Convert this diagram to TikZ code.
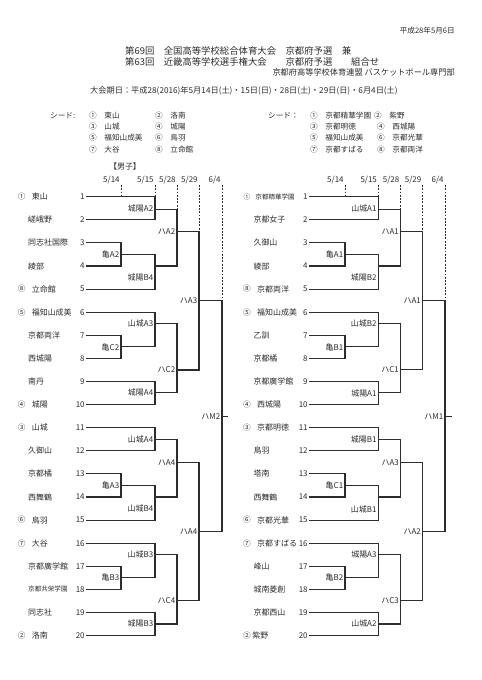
\documentclass[tikz,border=0pt]{standalone}
\usepackage{fontspec}
\setmainfont{Noto Sans CJK JP}
\usepackage{tikz}
\usetikzlibrary{positioning}
\definecolor{inkgray}{RGB}{45,45,45}

\begin{document}
\begin{tikzpicture}[
    x=0.03cm, y=-0.03cm,
    team/.style={anchor=west,inner sep=0pt,text=inkgray,font=\fontsize{6.8}{8}\selectfont},
    smallteam/.style={anchor=west,inner sep=0pt,text=inkgray,font=\fontsize{5.6}{7}\selectfont},
    num/.style={anchor=east,inner sep=1pt,text=inkgray,font=\fontsize{6.8}{8}\selectfont},
    seedmk/.style={inner sep=0pt,text=inkgray,font=\fontsize{6.5}{8}\selectfont},
    match/.style={anchor=east,inner sep=0.5pt,text=inkgray,font=\fontsize{6.8}{8}\selectfont},
    datelab/.style={anchor=south east,inner sep=1pt,text=inkgray,font=\fontsize{6.8}{8}\selectfont},
    seedlist/.style={anchor=west,inner sep=0pt,text=inkgray,font=\fontsize{6.5}{8}\selectfont},
    bline/.style={draw=inkgray,line width=0.9pt},
    markline/.style={draw=inkgray,line width=0.7pt,dash pattern=on 1.6pt off 1.2pt}
  ]
    \useasboundingbox[fill=white] (0,0) rectangle (481,680);

    % header
    \node[anchor=east,inner sep=0pt,text=inkgray,font=\fontsize{6.5}{8}\selectfont] (issue) at (455,31) {平成28年5月6日};
    \node[anchor=west,inner sep=0pt,text=inkgray,font=\fontsize{8}{10}\selectfont] (title1) at (125,50.7) {第69回　全国高等学校総合体育大会　京都府予選　兼};
    \node[anchor=west,inner sep=0pt,text=inkgray,font=\fontsize{8}{10}\selectfont] (title2) at (125,61.7) {第63回　近畿高等学校選手権大会　　京都府予選　　組合せ};
    \node[anchor=east,inner sep=0pt,text=inkgray,font=\fontsize{7}{9}\selectfont] (org) at (455,72.7) {京都府高等学校体育連盟 バスケットボール専門部};
    \node[anchor=west,inner sep=0pt,text=inkgray,font=\fontsize{7}{8}\selectfont] (period) at (90,90.7) {大会期日：平成28(2016)年5月14日(土)・15日(日)・28日(土)・29日(日)・6月4日(土)};

    % seeds
    \node[seedlist] (seedL) at (50,115.5) {シード:};
    \node[seedlist] (sL1) at (89,115.5) {①　東山};
    \node[seedlist] (sL2) at (155,115.5) {②　洛南};
    \node[seedlist] (sL3) at (89,126.8) {③　山城};
    \node[seedlist] (sL4) at (155,126.8) {④　城陽};
    \node[seedlist] (sL5) at (89,138) {⑤　福知山成美};
    \node[seedlist] (sL6) at (155,138) {⑥　鳥羽};
    \node[seedlist] (sL7) at (89,149.3) {⑦　大谷};
    \node[seedlist] (sL8) at (155,149.3) {⑧　立命館};
    \node[seedlist] (seedR) at (268,115.5) {シード：};
    \node[seedlist] (sR1) at (310,115.5) {①　京都精華学園};
    \node[seedlist] (sR2) at (374,115.5) {②　紫野};
    \node[seedlist] (sR3) at (310,126.8) {③　京都明徳};
    \node[seedlist] (sR4) at (377,126.8) {④　西城陽};
    \node[seedlist] (sR5) at (310,138) {⑤　福知山成美};
    \node[seedlist] (sR6) at (377,138) {⑥　京都光華};
    \node[seedlist] (sR7) at (310,149.3) {⑦　京都すばる};
    \node[seedlist] (sR8) at (377,149.3) {⑧　京都両洋};

    \node[team,anchor=center] (boys) at (125,166) {【男子】};

    % dates and day markers
    \coordinate (Ld1) at (121,185); \coordinate (Ld2) at (155,185); \coordinate (Ld3) at (177,185);
    \coordinate (Ld4) at (199,185); \coordinate (Ld5) at (222,185);
    \coordinate (Rd1) at (345,185); \coordinate (Rd2) at (378.3,185); \coordinate (Rd3) at (400.7,185);
    \coordinate (Rd4) at (422.7,185); \coordinate (Rd5) at (445,185);
    \node[datelab] (dL1) at (Ld1) {5/14};
    \node[datelab] (dL2) at (Ld2) {5/15};
    \node[datelab] (dL3) at (Ld3) {5/28};
    \node[datelab] (dL4) at (Ld4) {5/29};
    \node[datelab] (dL5) at (Ld5) {6/4};
    \node[datelab] (dR1) at (Rd1) {5/14};
    \node[datelab] (dR2) at (Rd2) {5/15};
    \node[datelab] (dR3) at (Rd3) {5/28};
    \node[datelab] (dR4) at (Rd4) {5/29};
    \node[datelab] (dR5) at (Rd5) {6/4};

    % left bracket: teams
    \node[num] (l1) at (86,196.7) {1};   \node[seedmk] (lsd1) at (21.7,196.7) {①}; \node[team,right=5pt of lsd1] (lt1) {東山};
    \node[num] (l2) at (86,219.8) {2};   \node[team] (lt2) at (28,219.8) {嵯峨野};
    \node[num] (l3) at (86,242.9) {3};   \node[team] (lt3) at (28,242.9) {同志社国際};
    \node[num] (l4) at (86,266) {4};     \node[team] (lt4) at (28,266) {綾部};
    \node[num] (l5) at (86,289.1) {5};   \node[seedmk] (lsd5) at (21.7,289.1) {⑧}; \node[team,right=5pt of lsd5] (lt5) {立命館};
    \node[num] (l6) at (86,312.2) {6};   \node[seedmk] (lsd6) at (21.7,312.2) {⑤}; \node[team,right=5pt of lsd6] (lt6) {福知山成美};
    \node[num] (l7) at (86,335.3) {7};   \node[team] (lt7) at (28,335.3) {京都両洋};
    \node[num] (l8) at (86,358.4) {8};   \node[team] (lt8) at (28,358.4) {西城陽};
    \node[num] (l9) at (86,381.5) {9};   \node[team] (lt9) at (28,381.5) {南丹};
    \node[num] (l10) at (86,404.6) {10}; \node[seedmk] (lsd10) at (21.7,404.6) {④}; \node[team,right=5pt of lsd10] (lt10) {城陽};
    \node[num] (l11) at (86,427.7) {11}; \node[seedmk] (lsd11) at (21.7,427.7) {③}; \node[team,right=5pt of lsd11] (lt11) {山城};
    \node[num] (l12) at (86,450.8) {12}; \node[team] (lt12) at (28,450.8) {久御山};
    \node[num] (l13) at (86,473.9) {13}; \node[team] (lt13) at (28,473.9) {京都橘};
    \node[num] (l14) at (86,497) {14};   \node[team] (lt14) at (28,497) {西舞鶴};
    \node[num] (l15) at (86,520.1) {15}; \node[seedmk] (lsd15) at (21.7,520.1) {⑥}; \node[team,right=5pt of lsd15] (lt15) {鳥羽};
    \node[num] (l16) at (86,543.2) {16}; \node[seedmk] (lsd16) at (21.7,543.2) {⑦}; \node[team,right=5pt of lsd16] (lt16) {大谷};
    \node[num] (l17) at (86,566.3) {17}; \node[team] (lt17) at (28,566.3) {京都廣学館};
    \node[num] (l18) at (86,589.4) {18}; \node[smallteam] (lt18) at (28,589.4) {京都共栄学園};
    \node[num] (l19) at (86,612.5) {19}; \node[team] (lt19) at (28,612.5) {同志社};
    \node[num] (l20) at (86,635.6) {20}; \node[seedmk] (lsd20) at (21.7,635.6) {②}; \node[team,right=5pt of lsd20] (lt20) {洛南};

    % right bracket: teams
    \node[num] (r1) at (309,196.7) {1};   \node[seedmk,font=\fontsize{5.6}{7}\selectfont] (rsd1) at (247,196.7) {①}; \node[smallteam,right=4pt of rsd1] (rt1) {京都精華学園};
    \node[num] (r2) at (309,219.8) {2};   \node[team] (rt2) at (253.3,219.8) {京都女子};
    \node[num] (r3) at (309,242.9) {3};   \node[team] (rt3) at (253.3,242.9) {久御山};
    \node[num] (r4) at (309,266) {4};     \node[team] (rt4) at (253.3,266) {綾部};
    \node[num] (r5) at (309,289.1) {5};   \node[seedmk] (rsd5) at (247,289.1) {⑧}; \node[team,right=5pt of rsd5] (rt5) {京都両洋};
    \node[num] (r6) at (309,312.2) {6};   \node[seedmk] (rsd6) at (247,312.2) {⑤}; \node[team,right=5pt of rsd6] (rt6) {福知山成美};
    \node[num] (r7) at (309,335.3) {7};   \node[team] (rt7) at (253.3,335.3) {乙訓};
    \node[num] (r8) at (309,358.4) {8};   \node[team] (rt8) at (253.3,358.4) {京都橘};
    \node[num] (r9) at (309,381.5) {9};   \node[team] (rt9) at (253.3,381.5) {京都廣学館};
    \node[num] (r10) at (309,404.6) {10}; \node[seedmk] (rsd10) at (247,404.6) {④}; \node[team,right=5pt of rsd10] (rt10) {西城陽};
    \node[num] (r11) at (309,427.7) {11}; \node[seedmk] (rsd11) at (247,427.7) {③}; \node[team,right=5pt of rsd11] (rt11) {京都明徳};
    \node[num] (r12) at (309,450.8) {12}; \node[team] (rt12) at (253.3,450.8) {鳥羽};
    \node[num] (r13) at (309,473.9) {13}; \node[team] (rt13) at (253.3,473.9) {塔南};
    \node[num] (r14) at (309,497) {14};   \node[team] (rt14) at (253.3,497) {西舞鶴};
    \node[num] (r15) at (309,520.1) {15}; \node[seedmk] (rsd15) at (247,520.1) {⑥}; \node[team,right=5pt of rsd15] (rt15) {京都光華};
    \node[num] (r16) at (309,543.2) {16}; \node[seedmk] (rsd16) at (247,543.2) {⑦}; \node[team,right=5pt of rsd16] (rt16) {京都すばる};
    \node[num] (r17) at (309,566.3) {17}; \node[team] (rt17) at (253.3,566.3) {峰山};
    \node[num] (r18) at (309,589.4) {18}; \node[team] (rt18) at (253.3,589.4) {城南菱創};
    \node[num] (r19) at (309,612.5) {19}; \node[team] (rt19) at (253.3,612.5) {京都西山};
    \node[num] (r20) at (309,635.6) {20}; \node[seedmk] (rsd20) at (247,635.6) {②}; \node[team,right=1pt of rsd20] (rt20) {紫野};

    % left bracket: match points
    \coordinate (LjA2) at (155,209.3);  \coordinate (LkA2) at (121,254.5); \coordinate (LjB4) at (155,266);
    \coordinate (LhA2) at (177,231.7);  \coordinate (LyA3) at (155,323.3); \coordinate (LkC2) at (121,346.9);
    \coordinate (LjA4) at (155,392.7);  \coordinate (LhC2) at (177,370);   \coordinate (LhA3) at (199,300.7);
    \coordinate (LyA4) at (155,439.3);  \coordinate (LkA3) at (121,485.4); \coordinate (LyB4) at (155,497);
    \coordinate (LhA4) at (177,462.3);  \coordinate (LyB3) at (155,554.3); \coordinate (LkB3) at (121,577.8);
    \coordinate (LjB3) at (155,624);    \coordinate (LhC4) at (177,600.7); \coordinate (LhA4b) at (199,531.7);
    \coordinate (LhM2) at (222,416.2);  \coordinate (LtM2) at (228,416.2);

    % right bracket: match points
    \coordinate (RyA1) at (378.3,209.3); \coordinate (RkA1) at (345,254.5); \coordinate (RjB2) at (378.3,266);
    \coordinate (RhA1) at (400.7,231.7); \coordinate (RyB2) at (378.3,323.3); \coordinate (RkB1) at (345,346.9);
    \coordinate (RjA1) at (378.3,392.7); \coordinate (RhC1) at (400.7,369.3); \coordinate (RhA1b) at (422.7,300.7);
    \coordinate (RjB1) at (378.3,439.3); \coordinate (RkC1) at (345,485.4); \coordinate (RyB1) at (378.3,497);
    \coordinate (RhA3) at (400.7,462.3); \coordinate (RjA3) at (378.3,554.3); \coordinate (RkB2) at (345,577.8);
    \coordinate (RyA2) at (378.3,624);   \coordinate (RhC3) at (400.7,600.7); \coordinate (RhA2) at (422.7,531.7);
    \coordinate (RhM1) at (445,416.2);   \coordinate (RtM1) at (451.5,416.2);

    % day markers
    \draw[markline] (Ld1) -- (Ld1 |- l1);
    \draw[markline] (Ld2) -- (Ld2 |- l1);
    \draw[markline] (Ld3) -- (Ld3 |- LjA2);
    \draw[markline] (Ld4) -- (Ld4 |- LhA2);
    \draw[markline] (Ld5) -- (Ld5 |- LhA3);
    \draw[markline] (Rd1) -- (Rd1 |- r1);
    \draw[markline] (Rd2) -- (Rd2 |- r1);
    \draw[markline] (Rd3) -- (Rd3 |- RyA1);
    \draw[markline] (Rd4) -- (Rd4 |- RhA1);
    \draw[markline] (Rd5) -- (Rd5 |- RhA1b);

    % left bracket: lines
    \draw[bline] (l1.east) -| (LjA2) |- (l2.east);
    \draw[bline] (l3.east) -| (LkA2) |- (l4.east);
    \draw[bline] (LkA2) -| (LjB4) |- (l5.east);
    \draw[bline] (LjA2) -| (LhA2) |- (LjB4);
    \draw[bline] (l7.east) -| (LkC2) |- (l8.east);
    \draw[bline] (l6.east) -| (LyA3) |- (LkC2);
    \draw[bline] (l9.east) -| (LjA4) |- (l10.east);
    \draw[bline] (LyA3) -| (LhC2) |- (LjA4);
    \draw[bline] (LhA2) -| (LhA3) |- (LhC2);
    \draw[bline] (l11.east) -| (LyA4) |- (l12.east);
    \draw[bline] (l13.east) -| (LkA3) |- (l14.east);
    \draw[bline] (LkA3) -| (LyB4) |- (l15.east);
    \draw[bline] (LyA4) -| (LhA4) |- (LyB4);
    \draw[bline] (l17.east) -| (LkB3) |- (l18.east);
    \draw[bline] (l16.east) -| (LyB3) |- (LkB3);
    \draw[bline] (l19.east) -| (LjB3) |- (l20.east);
    \draw[bline] (LyB3) -| (LhC4) |- (LjB3);
    \draw[bline] (LhA4) -| (LhA4b) |- (LhC4);
    \draw[bline] (LhA3) -| (LhM2) |- (LhA4b);
    \draw[bline] (LhM2) -- (LtM2);

    % right bracket: lines
    \draw[bline] (r1.east) -| (RyA1) |- (r2.east);
    \draw[bline] (r3.east) -| (RkA1) |- (r4.east);
    \draw[bline] (RkA1) -| (RjB2) |- (r5.east);
    \draw[bline] (RyA1) -| (RhA1) |- (RjB2);
    \draw[bline] (r7.east) -| (RkB1) |- (r8.east);
    \draw[bline] (r6.east) -| (RyB2) |- (RkB1);
    \draw[bline] (r9.east) -| (RjA1) |- (r10.east);
    \draw[bline] (RyB2) -| (RhC1) |- (RjA1);
    \draw[bline] (RhA1) -| (RhA1b) |- (RhC1);
    \draw[bline] (r11.east) -| (RjB1) |- (r12.east);
    \draw[bline] (r13.east) -| (RkC1) |- (r14.east);
    \draw[bline] (RkC1) -| (RyB1) |- (r15.east);
    \draw[bline] (RjB1) -| (RhA3) |- (RyB1);
    \draw[bline] (r17.east) -| (RkB2) |- (r18.east);
    \draw[bline] (r16.east) -| (RjA3) |- (RkB2);
    \draw[bline] (r19.east) -| (RyA2) |- (r20.east);
    \draw[bline] (RjA3) -| (RhC3) |- (RyA2);
    \draw[bline] (RhA3) -| (RhA2) |- (RhC3);
    \draw[bline] (RhA1b) -| (RhM1) |- (RhA2);
    \draw[bline] (RhM1) -- (RtM1);

    % left bracket: match labels
    \node[match] (mLjA2) at (154,208.3) {城陽A2};
    \node[match] (mLkA2) at (120,254.5) {亀A2};
    \node[match] (mLjB4) at (154,277.7) {城陽B4};
    \node[match] (mLhA2) at (176,231.7) {ハA2};
    \node[match] (mLyA3) at (154,323.3) {山城A3};
    \node[match] (mLkC2) at (120,347) {亀C2};
    \node[match] (mLjA4) at (154,392.7) {城陽A4};
    \node[match] (mLhC2) at (176,370) {ハC2};
    \node[match] (mLhA3) at (198,300.7) {ハA3};
    \node[match] (mLyA4) at (154,439.3) {山城A4};
    \node[match] (mLkA3) at (120,485.4) {亀A3};
    \node[match] (mLyB4) at (154,508.3) {山城B4};
    \node[match] (mLhA4) at (176,462.3) {ハA4};
    \node[match] (mLyB3) at (154,554.3) {山城B3};
    \node[match] (mLkB3) at (120,577.8) {亀B3};
    \node[match] (mLjB3) at (154,623.3) {城陽B3};
    \node[match] (mLhC4) at (176,600.7) {ハC4};
    \node[match] (mLhA4b) at (198,531.7) {ハA4};
    \node[match] (mLhM2) at (221,416.2) {ハM2};

    % right bracket: match labels
    \node[match] (mRyA1) at (377.3,208.3) {山城A1};
    \node[match] (mRkA1) at (344,254.5) {亀A1};
    \node[match] (mRjB2) at (377.3,277.7) {城陽B2};
    \node[match] (mRhA1) at (399.7,231.7) {ハA1};
    \node[match] (mRyB2) at (377.3,323.3) {山城B2};
    \node[match] (mRkB1) at (344,347) {亀B1};
    \node[match] (mRjA1) at (377.3,393.3) {城陽A1};
    \node[match] (mRhC1) at (399.7,369.3) {ハC1};
    \node[match] (mRhA1b) at (421.7,300.7) {ハA1};
    \node[match] (mRjB1) at (377.3,439.3) {城陽B1};
    \node[match] (mRkC1) at (344,485.4) {亀C1};
    \node[match] (mRyB1) at (377.3,509.3) {山城B1};
    \node[match] (mRhA3) at (399.7,462.3) {ハA3};
    \node[match] (mRjA3) at (377.3,554.3) {城陽A3};
    \node[match] (mRkB2) at (344,577.8) {亀B2};
    \node[match] (mRyA2) at (377.3,623.3) {山城A2};
    \node[match] (mRhC3) at (399.7,600.7) {ハC3};
    \node[match] (mRhA2) at (421.7,531.7) {ハA2};
    \node[match] (mRhM1) at (444,416.2) {ハM1};
  \end{tikzpicture}
\end{document}
